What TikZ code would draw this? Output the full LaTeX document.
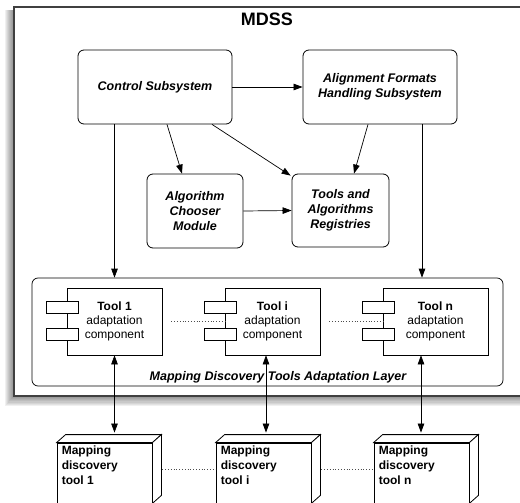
\documentclass[tikz,border=0pt]{standalone}
\usepackage{fontspec}
\setmainfont{Liberation Sans}
\usetikzlibrary{arrows.meta, positioning, backgrounds}
\tikzstyle{sistema} = [draw, rounded corners=6pt, line width=0.8pt, fill=white, align=center, font=\fontsize{12.5}{15}\selectfont\bfseries\itshape]
\tikzstyle{componente} = [draw, line width=0.7pt, fill=white, minimum height=67pt, align=center, font=\fontsize{12}{14}\selectfont]
\tikzstyle{nodo} = [draw, line width=0.8pt, fill=white, minimum width=95pt, minimum height=60pt]
\tikzstyle{nodotexto} = [anchor=north west, align=left, inner xsep=5pt, inner ysep=3pt, font=\fontsize{12}{15}\selectfont\bfseries]
\tikzstyle{flecha} = [-{Triangle[length=9pt,width=6.5pt]}, line width=0.7pt]
\tikzstyle{doble} = [{Triangle[length=9pt,width=6.5pt]}-{Triangle[length=9pt,width=6.5pt]}, line width=0.7pt]
\tikzstyle{puntos} = [dotted, line width=0.8pt, black!70]

\begin{document}
\begin{tikzpicture}[x=1pt, y=-1pt]
	\clip (0,0) rectangle (520,503);
	\node[draw=black!75, line width=1.2pt, fill=white, minimum width=516pt, minimum height=389pt] (mdss) at (272,201.5) {};
	\begin{scope}[on background layer]
		\foreach \s in {1,...,8}
			\fill[black, opacity=0.06] ([shift={(-\s,4)}]mdss.north west) rectangle ([shift={(\s,1.2*\s)}]mdss.south east);
	\end{scope}
	\node[font=\fontsize{18}{20}\selectfont\bfseries, anchor=north, inner sep=0pt] (titulo) at ([xshift=-5pt,yshift=-6pt]mdss.north) {MDSS};

	\node[sistema, minimum width=154pt, minimum height=74pt] (control) at (155,87) {Control Subsystem};
	\node[sistema, minimum width=154pt, minimum height=74pt] (formatos) at (380,87) {Alignment Formats\\Handling Subsystem};
	\node[sistema, minimum width=96pt, minimum height=74pt] (selector) at (195,211) {Algorithm\\Chooser\\Module};
	\node[sistema, minimum width=97pt, minimum height=73pt] (registros) at (340.5,210.5) {Tools and\\Algorithms\\Registries};

	\node[draw, rounded corners=6pt, line width=0.7pt, minimum width=471pt, minimum height=108pt] (capa) at (267.5,332) {};
	\node[anchor=base, inner sep=0pt, font=\fontsize{12.5}{15}\selectfont\bfseries\itshape] (capatexto) at ([xshift=10.5pt,yshift=6pt]capa.south) {Mapping Discovery Tools Adaptation Layer};

	\node[componente, minimum width=95pt] (adapt1) at (114.5,321.5) {\textbf{Tool 1}\\adaptation\\component};
	\node[componente, minimum width=95pt] (adapti) at (272.5,321.5) {\textbf{Tool i}\\adaptation\\component};
	\node[componente, minimum width=105pt] (adaptn) at (435.5,321.5) {\textbf{Tool n}\\adaptation\\component};
	\foreach \c in {adapt1, adapti, adaptn} {
		\draw[fill=white, line width=0.7pt] ([shift={(-20,14)}]\c.north west) rectangle +(32,12);
		\draw[fill=white, line width=0.7pt] ([shift={(-20,41)}]\c.north west) rectangle +(32,12);
	}

	\node[nodo, label={[nodotexto]north west:{Mapping\\discovery\\tool 1}}] (herr1) at (104.5,473) {};
	\node[nodo, label={[nodotexto]north west:{Mapping\\discovery\\tool i}}] (herri) at (263.5,473) {};
	\node[nodo, label={[nodotexto]north west:{Mapping\\discovery\\tool n}}] (herrn) at (421.5,473) {};
	\foreach \h in {herr1, herri, herrn} {
		\draw[line width=0.8pt, fill=white] (\h.north west) -- ++(9,-8) -- ([shift={(9,-8)}]\h.north east) -- (\h.north east) -- cycle;
		\draw[line width=0.8pt, fill=white] (\h.north east) -- ++(9,-8) -- ([shift={(9,-8)}]\h.south east) -- (\h.south east) -- cycle;
	}

	\draw[flecha] (control.east) -- (formatos.west);
	\draw[flecha] ([xshift=12pt]control.south) -- ([xshift=-13pt]selector.north);
	\draw[flecha] ([xshift=57pt]control.south) -- ([xshift=-1pt,yshift=-2pt]registros.north west);
	\draw[flecha] ([xshift=-12pt]formatos.south) -- ([xshift=13.5pt]registros.north);
	\draw[flecha] (selector.east) -- (registros.west);
	\draw[flecha] (control.south -| adapt1) -- (capa.north -| adapt1);
	\draw[flecha] ([xshift=42pt]formatos.south) -- ([xshift=42pt]formatos.south |- capa.north);

	\draw[puntos] ([xshift=9pt]adapt1.east) -- (adapti.west);
	\draw[puntos] ([xshift=9pt]adapti.east) -- (adaptn.west);
	\draw[puntos] ([xshift=10pt,yshift=4pt]herr1.east) -- ([yshift=4pt]herri.west);
	\draw[puntos] ([xshift=10pt,yshift=4pt]herri.east) -- ([yshift=4pt]herrn.west);

	\draw[doble] (adapt1.south) -- ([yshift=10pt]adapt1.south |- herr1.north);
	\draw[doble] ([xshift=-6.5pt]adapti.south) -- ([xshift=-6.5pt,yshift=10pt]adapti.south |- herri.north);
	\draw[doble] ([xshift=-14.5pt]adaptn.south) -- ([xshift=-14.5pt,yshift=10pt]adaptn.south |- herrn.north);
\end{tikzpicture}
\end{document}
